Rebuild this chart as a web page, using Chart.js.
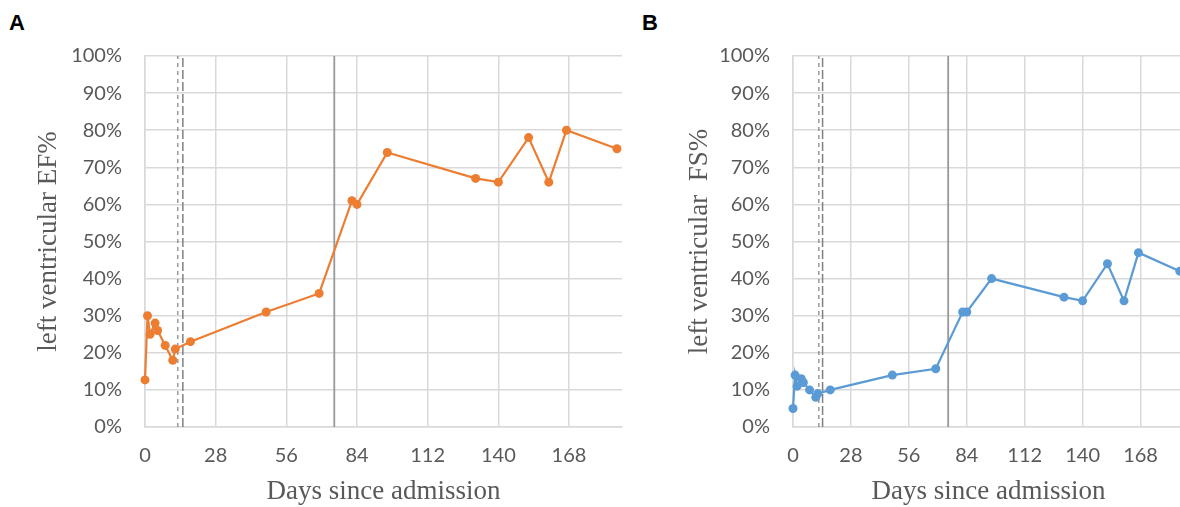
<!DOCTYPE html>
<html>
<head>
<meta charset="utf-8">
<script src="https://cdn.jsdelivr.net/npm/chart.js@4.4.0/dist/chart.umd.min.js"></script>
<style>
  html, body { margin: 0; padding: 0; background: #fff; overflow: hidden; }
  body { width: 1180px; height: 507px; position: relative; }
  canvas { position: absolute; top: 0; }
  .panel { position: absolute; font: bold 22px "Liberation Sans", Arial, sans-serif; color: #000; }
</style>
</head>
<body>
<div class="panel" style="left:9px;top:10px;">A</div>
<div class="panel" style="left:642px;top:10px;">B</div>
<canvas id="efChart" style="left:0px;"></canvas>
<canvas id="fsChart" style="left:640px;"></canvas>
<script>
// days since admission for each echo
const days = [0, 1, 2, 4, 5, 8, 11, 12, 18, 48, 69, 82, 84, 96, 131, 140, 152, 160, 167, 187];
// left ventricular EF (%)
const efValues = [12.7, 30, 25, 28, 26, 22, 18, 21, 23, 31, 36, 61, 60, 74, 67, 66, 78, 66, 80, 75];
// left ventricular FS (%)
const fsValues = [5, 14, 11, 13, 12, 10, 8, 9, 10, 14, 15.7, 31, 31, 40, 35, 34, 44, 34, 47, 42];

const xTickDays = [0, 28, 56, 84, 112, 140, 168];
const yTickPercents = [0, 10, 20, 30, 40, 50, 60, 70, 80, 90, 100];

// vertical markers (days)
const efDashShort = 13, efDashLong = 15;
const fsDashShort = 12.5, fsDashLong = 14.3;
const solidMarkerDay = 75;

const tickFont = { family: "Lato, 'Open Sans', sans-serif", size: 20 };
const titleFont = { family: "'Liberation Serif', 'DejaVu Serif', serif", size: 27, lineHeight: 1.1 };

function vline(day, color, width, dash) {
  return {
    data: [{ x: day, y: 0 }, { x: day, y: 100 }],
    borderColor: color,
    borderWidth: width,
    borderDash: dash,
    pointRadius: 0,
    clip: false,
  };
}

function makeChart(id, w, yAxisWidth, values, color, yTitle, titlePad, dashA, dashB) {
  const canvas = document.getElementById(id);
  canvas.width = w;
  canvas.height = 507;
  return new Chart(canvas.getContext("2d"), {
    type: "line",
    data: {
      datasets: [
        {
          data: days.map((d, i) => ({ x: d, y: values[i] })),
          borderColor: color,
          backgroundColor: color,
          borderWidth: 2.2,
          pointRadius: 4.5,
          pointBorderWidth: 0,
          clip: false,
        },
        vline(dashA, "#808080", 1.2, [4, 4]),
        vline(dashB, "#808080", 1.5, [9, 3]),
        vline(solidMarkerDay, "#999999", 1.8, []),
      ],
    },
    options: {
      responsive: false,
      animation: false,
      layout: { padding: { left: 0, right: 18, top: 56, bottom: 0 } },
      plugins: { legend: { display: false }, tooltip: { enabled: false } },
      scales: {
        x: {
          type: "linear",
          min: 0,
          max: 189,
          afterBuildTicks: (scale) => { scale.ticks = xTickDays.map(v => ({ value: v })); },
          afterFit: (scale) => { scale.height = 80; },
          grid: { color: "#d9d9d9", lineWidth: 1.5, drawTicks: false },
          border: { color: "#d9d9d9", width: 1.5 },
          ticks: { font: tickFont, color: "#595959", padding: 17, maxRotation: 0 },
          title: {
            display: true,
            text: "Days since admission",
            font: titleFont,
            color: "#595959",
            padding: { top: 0, bottom: 0 },
          },
        },
        y: {
          min: 0,
          max: 100,
          afterBuildTicks: (scale) => { scale.ticks = yTickPercents.map(v => ({ value: v })); },
          afterFit: (scale) => { scale.width = yAxisWidth; },
          grid: { color: "#d9d9d9", lineWidth: 1.5, drawTicks: false },
          border: { color: "#d9d9d9", width: 1.5 },
          ticks: { font: tickFont, color: "#595959", padding: 23, callback: (v) => v + "%" },
          title: {
            display: true,
            text: yTitle,
            font: titleFont,
            color: "#595959",
            padding: { top: titlePad, bottom: 0 },
          },
        },
      },
    },
  });
}

makeChart("efChart", 640, 145, efValues, "#ED7D31", "left ventricular EF%", 34, efDashShort, efDashLong);
makeChart("fsChart", 562, 153, fsValues, "#5B9BD5", "left ventricular  FS%", 45, fsDashShort, fsDashLong);
</script>
</body>
</html>
